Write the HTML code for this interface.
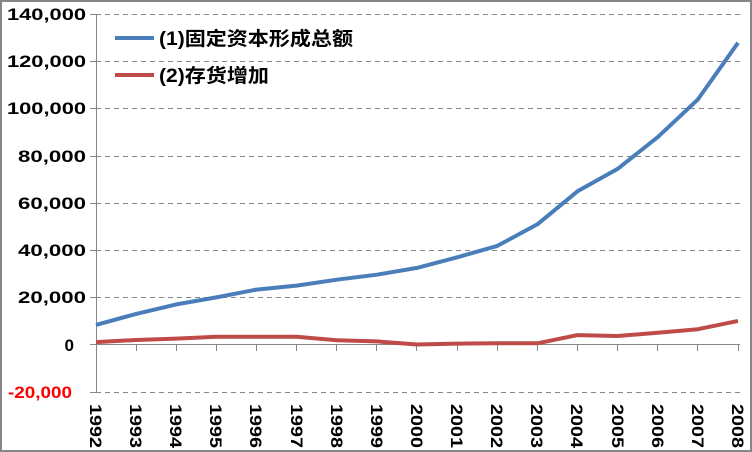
<!DOCTYPE html>
<html><head><meta charset="utf-8"><style>
html,body{margin:0;padding:0;background:#fff;}
svg{display:block;}
text{font-family:"Liberation Sans","Noto Sans CJK SC",sans-serif;font-weight:bold;}
</style></head><body>
<svg width="752" height="452" viewBox="0 0 752 452" xmlns="http://www.w3.org/2000/svg">
<rect x="1" y="1" width="750" height="450" fill="#fff" stroke="#868686" stroke-width="2"/>
<g stroke="#868686" stroke-width="1" stroke-dasharray="5,4">
<line x1="96" y1="14.5" x2="740" y2="14.5"/>
<line x1="96" y1="61.5" x2="740" y2="61.5"/>
<line x1="96" y1="108.5" x2="740" y2="108.5"/>
<line x1="96" y1="156.5" x2="740" y2="156.5"/>
<line x1="96" y1="203.5" x2="740" y2="203.5"/>
<line x1="96" y1="250.5" x2="740" y2="250.5"/>
<line x1="96" y1="297.5" x2="740" y2="297.5"/>
<line x1="96" y1="392.5" x2="740" y2="392.5"/>
</g>
<g stroke="#868686" stroke-width="1">
<line x1="96.5" y1="14" x2="96.5" y2="392"/>
<line x1="96" y1="344.5" x2="740" y2="344.5"/>
<line x1="90" y1="14.5" x2="96" y2="14.5"/><line x1="90" y1="61.5" x2="96" y2="61.5"/>
<line x1="90" y1="108.5" x2="96" y2="108.5"/><line x1="90" y1="156.5" x2="96" y2="156.5"/>
<line x1="90" y1="203.5" x2="96" y2="203.5"/><line x1="90" y1="250.5" x2="96" y2="250.5"/>
<line x1="90" y1="297.5" x2="96" y2="297.5"/><line x1="90" y1="344.5" x2="96" y2="344.5"/>
<line x1="90" y1="392.5" x2="96" y2="392.5"/>
<line x1="136.5" y1="344" x2="136.5" y2="351"/><line x1="176.5" y1="344" x2="176.5" y2="351"/>
<line x1="216.5" y1="344" x2="216.5" y2="351"/><line x1="256.5" y1="344" x2="256.5" y2="351"/>
<line x1="296.5" y1="344" x2="296.5" y2="351"/><line x1="336.5" y1="344" x2="336.5" y2="351"/>
<line x1="376.5" y1="344" x2="376.5" y2="351"/><line x1="416.5" y1="344" x2="416.5" y2="351"/>
<line x1="457.5" y1="344" x2="457.5" y2="351"/><line x1="497.5" y1="344" x2="497.5" y2="351"/>
<line x1="537.5" y1="344" x2="537.5" y2="351"/><line x1="577.5" y1="344" x2="577.5" y2="351"/>
<line x1="617.5" y1="344" x2="617.5" y2="351"/><line x1="657.5" y1="344" x2="657.5" y2="351"/>
<line x1="697.5" y1="344" x2="697.5" y2="351"/><line x1="738.5" y1="344" x2="738.5" y2="351"/>
</g>
<g font-size="17" text-anchor="end" fill="#000">
<text x="86" y="20" textLength="79" lengthAdjust="spacingAndGlyphs">140,000</text>
<text x="86" y="67" textLength="79" lengthAdjust="spacingAndGlyphs">120,000</text>
<text x="86" y="114" textLength="79" lengthAdjust="spacingAndGlyphs">100,000</text>
<text x="86" y="162" textLength="68" lengthAdjust="spacingAndGlyphs">80,000</text>
<text x="86" y="209" textLength="68" lengthAdjust="spacingAndGlyphs">60,000</text>
<text x="86" y="256" textLength="68" lengthAdjust="spacingAndGlyphs">40,000</text>
<text x="86" y="303" textLength="68" lengthAdjust="spacingAndGlyphs">20,000</text>
<text x="74" y="351">0</text>
<text x="72" y="398" fill="#ff0000" textLength="64" lengthAdjust="spacingAndGlyphs">-20,000</text>
</g>
<g font-size="17" fill="#000">
<text transform="translate(90,404) rotate(90)" textLength="44" lengthAdjust="spacingAndGlyphs">1992</text>
<text transform="translate(130,404) rotate(90)" textLength="44" lengthAdjust="spacingAndGlyphs">1993</text>
<text transform="translate(170,404) rotate(90)" textLength="44" lengthAdjust="spacingAndGlyphs">1994</text>
<text transform="translate(210,404) rotate(90)" textLength="44" lengthAdjust="spacingAndGlyphs">1995</text>
<text transform="translate(250,404) rotate(90)" textLength="44" lengthAdjust="spacingAndGlyphs">1996</text>
<text transform="translate(291,404) rotate(90)" textLength="44" lengthAdjust="spacingAndGlyphs">1997</text>
<text transform="translate(331,404) rotate(90)" textLength="44" lengthAdjust="spacingAndGlyphs">1998</text>
<text transform="translate(371,404) rotate(90)" textLength="44" lengthAdjust="spacingAndGlyphs">1999</text>
<text transform="translate(411,404) rotate(90)" textLength="44" lengthAdjust="spacingAndGlyphs">2000</text>
<text transform="translate(451,404) rotate(90)" textLength="44" lengthAdjust="spacingAndGlyphs">2001</text>
<text transform="translate(491,404) rotate(90)" textLength="44" lengthAdjust="spacingAndGlyphs">2002</text>
<text transform="translate(531,404) rotate(90)" textLength="44" lengthAdjust="spacingAndGlyphs">2003</text>
<text transform="translate(571,404) rotate(90)" textLength="44" lengthAdjust="spacingAndGlyphs">2004</text>
<text transform="translate(612,404) rotate(90)" textLength="44" lengthAdjust="spacingAndGlyphs">2005</text>
<text transform="translate(652,404) rotate(90)" textLength="44" lengthAdjust="spacingAndGlyphs">2006</text>
<text transform="translate(692,404) rotate(90)" textLength="44" lengthAdjust="spacingAndGlyphs">2007</text>
<text transform="translate(732,404) rotate(90)" textLength="44" lengthAdjust="spacingAndGlyphs">2008</text>
</g>
<polyline fill="none" stroke="#4a7ebb" stroke-width="4" stroke-linejoin="round" points="96,324.9 136.1,313.9 176.3,304.4 216.4,297.4 256.5,289.6 296.6,285.6 336.8,279.7 376.9,274.7 417,267.9 457.1,257.3 497.3,245.9 537.4,224.3 577.5,191.3 617.6,168.9 657.8,137.1 697.9,99.4 738,42.8"/>
<polyline fill="none" stroke="#be4b48" stroke-width="4" stroke-linejoin="round" points="96,342.1 136.1,340.0 176.3,338.6 216.4,336.7 256.5,336.7 296.6,336.7 336.8,340.3 376.9,341.4 417,344.5 457.1,343.6 497.3,343.3 537.4,343.3 577.5,335.1 617.6,336.0 657.8,332.7 697.9,329.2 738,320.9"/>
<line x1="115" y1="38" x2="154" y2="38" stroke="#4a7ebb" stroke-width="4"/>
<line x1="115" y1="75" x2="154" y2="75" stroke="#be4b48" stroke-width="4"/>
<text x="159" y="45" font-size="19" textLength="194" lengthAdjust="spacingAndGlyphs">(1)固定资本形成总额</text>
<text x="159" y="82" font-size="19" textLength="110" lengthAdjust="spacingAndGlyphs">(2)存货增加</text>
</svg>
</body></html>
